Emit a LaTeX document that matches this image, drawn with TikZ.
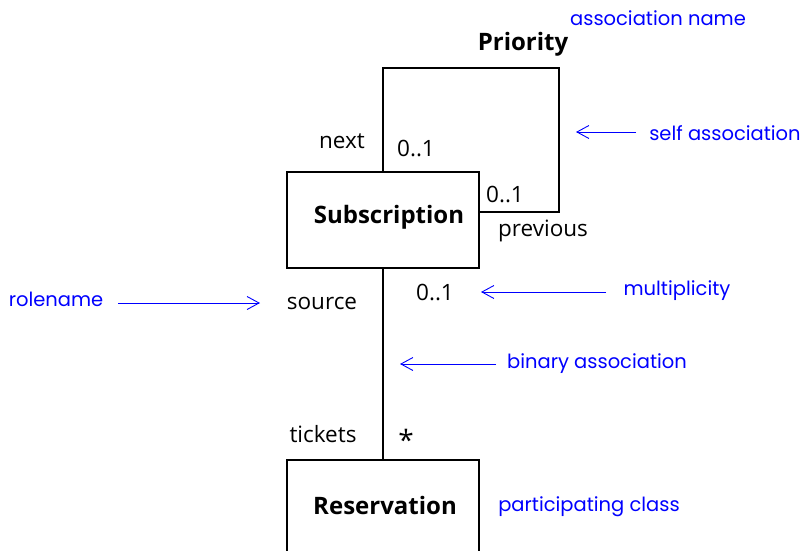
\documentclass[tikz,border=0pt]{standalone}
\usepackage{fontspec}
\setmainfont{Open Sans}
\newfontfamily\notefont{Poppins}
\usetikzlibrary{arrows.meta}
\begin{document}
\begin{tikzpicture}[x=1pt,y=-1pt,
  cls/.style={draw,line width=1.2pt,minimum width=192pt,minimum height=96pt,inner sep=0pt},
  clstxt/.style={inner sep=0pt,font=\fontsize{24}{28}\selectfont\bfseries},
  lbl/.style={inner sep=0pt,font=\fontsize{22.5}{26}\selectfont},
  note/.style={inner sep=0pt,text=blue,font=\notefont\fontsize{19.5}{23}\selectfont},
  ptr/.style={blue,line width=0.9pt,-{Straight Barb[length=12pt,width=13pt,line width=0.9pt]}},
  assoc/.style={line width=1.2pt}]
\useasboundingbox (0,0) rectangle (800,551);
\node[cls] (sub) at (383,220) {};
\node[clstxt] (subtxt) at (389,217) {Subscription};
\node[cls,minimum height=100pt] (res) at (383,510) {};
\node[clstxt] (restxt) at (385,505) {Reservation};
\coordinate (lt) at (383,68);
\coordinate (rt) at (559,68);
\coordinate (rb) at (559,212);
\coordinate (re) at (479,212);
\draw[assoc] (sub.north) -- (lt) -- (rt) -- (rb) -- (re);
\draw[assoc] (sub.south) -- (res.north);
% labels
\node[clstxt] (prio) at (523,44) {Priority};
\node[lbl] (next) at (342,141) {next};
\node[lbl] (m1) at (416,149) {0..1};
\node[lbl] (m2) at (505,195) {0..1};
\node[lbl] (prev) at (543,231) {previous};
\node[lbl] (src) at (322,303) {source};
\node[lbl] (m3) at (435,292) {0..1};
\node[lbl] (tick) at (323,434) {tickets};
\node[lbl,font=\fontsize{28}{30}\selectfont] (star) at (406,440) {*};
% notes
\node[note] (nassoc) at (658,18) {association name};
\node[note] (nself) at (725,133) {self association};
\node[note] (nrole) at (56,299) {rolename};
\node[note] (nmult) at (677,291) {multiplicity};
\node[note] (nbin) at (597,364) {binary association};
\node[note] (npart) at (589,507) {participating class};
\coordinate (a1s) at (636,132); \coordinate (a1e) at (576,132);
\coordinate (a2s) at (118,303); \coordinate (a2e) at (260,303);
\coordinate (a3s) at (606,292); \coordinate (a3e) at (481,292);
\coordinate (a4s) at (496,364); \coordinate (a4e) at (400,364);
\draw[ptr] (a1s) -- (a1e);
\draw[ptr] (a2s) -- (a2e);
\draw[ptr] (a3s) -- (a3e);
\draw[ptr] (a4s) -- (a4e);
\end{tikzpicture}
\end{document}
